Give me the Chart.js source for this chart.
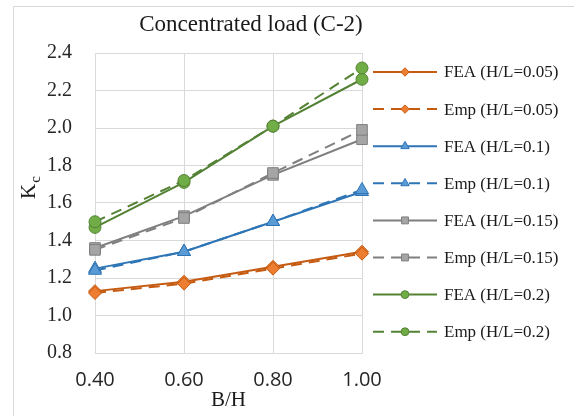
<!DOCTYPE html>
<html>
<head>
<meta charset="utf-8">
<script src="https://cdn.jsdelivr.net/npm/chart.js@4.4.1/dist/chart.umd.min.js"></script>
<style>
  html, body { margin: 0; padding: 0; background: #fff; }
  #wrap { position: relative; width: 580px; height: 416px; overflow: hidden; }
  #frame { position: absolute; left: 13px; top: 6px; width: 560px; height: 420px; border-left: 1px solid #d9d9d9; border-top: 1px solid #d9d9d9; }
  canvas { position: absolute; left: 0; top: 0; }
</style>
</head>
<body>
<div id="wrap"><div id="frame"></div><canvas id="chart" width="580" height="416"></canvas></div>
<script>
// --- DATOS ---
const chartTitle = 'Concentrated load (C-2)';
const bh = [0.40, 0.60, 0.80, 1.00];
const fea005 = [1.13, 1.18, 1.26, 1.34];
const emp005 = [1.12, 1.17, 1.25, 1.33];
const fea010 = [1.25, 1.34, 1.50, 1.66];
const emp010 = [1.24, 1.34, 1.50, 1.67];
const fea015 = [1.36, 1.53, 1.75, 1.94];
const emp015 = [1.35, 1.52, 1.76, 1.99];
const fea020 = [1.47, 1.71, 2.01, 2.26];
const emp020 = [1.50, 1.72, 2.01, 2.32];

Chart.defaults.font.family = '"Liberation Serif", serif';
Chart.defaults.color = '#262626';

// --- SERIES ---
const naranja = ['#C55A11', '#ED7D31'];
const azul = ['#2E75B6', '#5B9BD5'];
const gris = ['#7F7F7F', '#A5A5A5'];
const verde = ['#548235', '#70AD47'];

function serie(label, vals, col, shape, r, dashed, i) {
    return {
        label: label,
        data: bh.map((x, k) => ({ x: x, y: vals[k] })),
        borderColor: col[0], backgroundColor: col[1],
        borderWidth: 2, borderDash: dashed ? [11, 7] : [],
        pointStyle: shape, pointRadius: r, pointHoverRadius: r,
        pointBorderWidth: 1, pointBorderColor: col[0], pointBackgroundColor: col[1],
        clip: false, tension: 0, order: 8 - i
    };
}

const datasets = [
    serie('FEA (H/L=0.05)', fea005, naranja, 'rectRot', 6.5, false, 0),
    serie('Emp (H/L=0.05)', emp005, naranja, 'rectRot', 6.5, true, 1),
    serie('FEA (H/L=0.1)', fea010, azul, 'triangle', 7.5, false, 2),
    serie('Emp (H/L=0.1)', emp010, azul, 'triangle', 7.5, true, 3),
    serie('FEA (H/L=0.15)', fea015, gris, 'rect', 7.5, false, 4),
    serie('Emp (H/L=0.15)', emp015, gris, 'rect', 7.5, true, 5),
    serie('FEA (H/L=0.2)', fea020, verde, 'circle', 6, false, 6),
    serie('Emp (H/L=0.2)', emp020, verde, 'circle', 6, true, 7)
];

// --- TITULO, EJE Y Y LEYENDA ---
const decor = {
    id: 'decor',
    afterDraw(chart) {
        const ctx = chart.ctx;
        ctx.save();
        ctx.fillStyle = '#1a1a1a';
        ctx.font = '23px "Liberation Serif"';
        ctx.textAlign = 'center';
        ctx.textBaseline = 'alphabetic';
        ctx.fillText(chartTitle, 251, 31);

        // K con subindice c
        ctx.save();
        ctx.translate(35, 199);
        ctx.rotate(-Math.PI / 2);
        ctx.textAlign = 'left';
        ctx.font = '21px "Liberation Serif"';
        ctx.fillText('K', 0, 0);
        const w = ctx.measureText('K').width;
        ctx.font = '15px "Liberation Serif"';
        ctx.fillText('c', w + 1, 5);
        ctx.restore();

        // leyenda
        chart.data.datasets.forEach((ds, i) => {
            const y = 72 + i * 37.1;
            ctx.strokeStyle = ds.borderColor;
            ctx.lineWidth = 2;
            ctx.setLineDash(ds.borderDash);
            ctx.beginPath();
            ctx.moveTo(373, y);
            ctx.lineTo(437, y);
            ctx.stroke();
            ctx.setLineDash([]);
            ctx.fillStyle = ds.pointBackgroundColor;
            ctx.strokeStyle = ds.pointBorderColor;
            ctx.lineWidth = 1;
            Chart.helpers.drawPoint(ctx, { pointStyle: ds.pointStyle, radius: ds.pointRadius * 0.65, borderWidth: 1, rotation: 0 }, 405, y);
            ctx.fillStyle = '#1a1a1a';
            ctx.font = '17px "Liberation Serif"';
            ctx.textAlign = 'left';
            ctx.textBaseline = 'middle';
            ctx.fillText(ds.label, 444, y + 1);
        });
        ctx.restore();
    }
};

new Chart(document.getElementById('chart').getContext('2d'), {
    type: 'line',
    data: { datasets: datasets },
    options: {
        responsive: false,
        animation: false,
        layout: { padding: { left: 0, top: 53, right: 218, bottom: 0 } },
        plugins: { legend: { display: false }, title: { display: false }, tooltip: { enabled: false } },
        scales: {
            x: {
                type: 'linear', min: 0.4, max: 1.0,
                grid: { color: '#d9d9d9', drawTicks: false },
                border: { color: '#d9d9d9' },
                ticks: { stepSize: 0.2, padding: 15, font: { family: '"Open Sans"', size: 20 }, color: '#262626',
                         callback: v => v.toFixed(2) },
                title: { display: true, text: 'B/H', color: '#1a1a1a', font: { size: 21, lineHeight: 1 }, padding: { top: 0, bottom: 5 } },
                afterFit: s => { s.height = 63; }
            },
            y: {
                min: 0.8, max: 2.4,
                grid: { color: '#d9d9d9', drawTicks: false },
                border: { color: '#d9d9d9' },
                ticks: { stepSize: 0.2, padding: 23, font: { size: 20 }, color: '#262626',
                         callback: v => v.toFixed(1) },
                afterFit: s => { s.width = 95; }
            }
        }
    },
    plugins: [decor]
});
</script>
</body>
</html>
